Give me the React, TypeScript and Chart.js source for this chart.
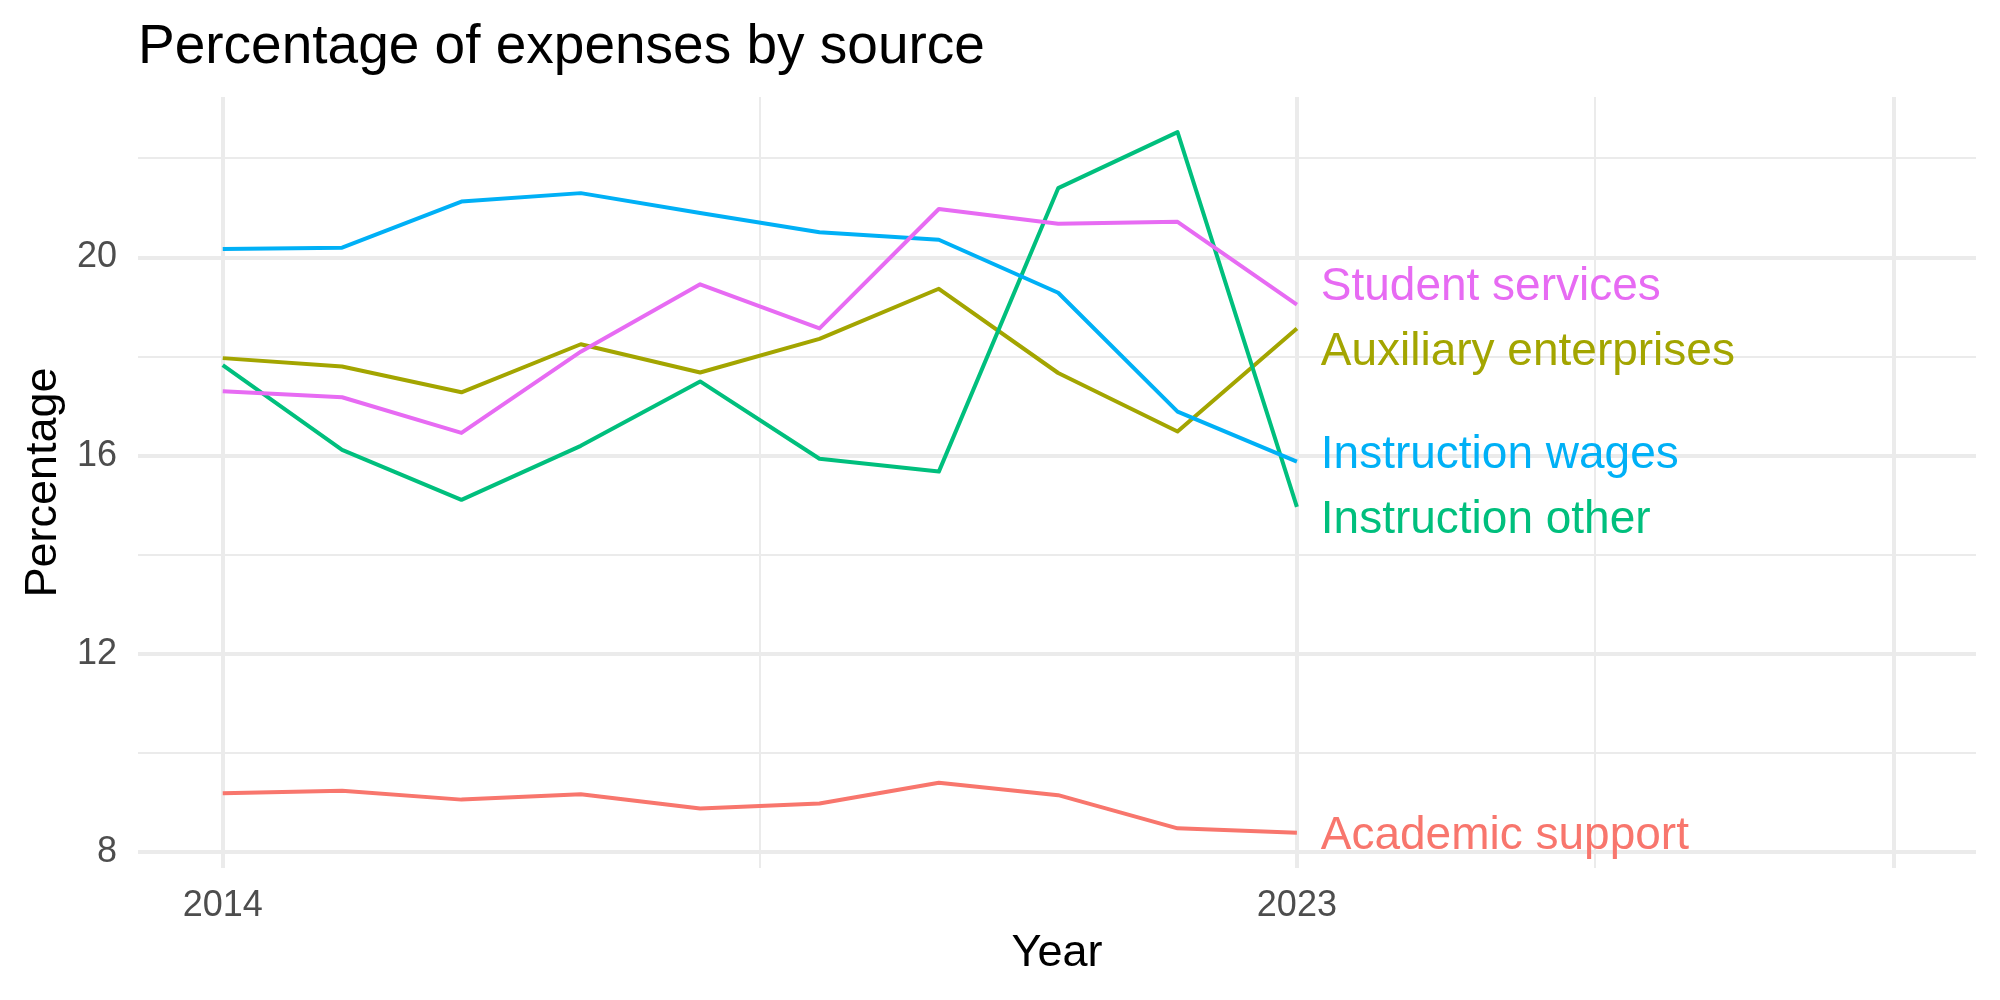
import React, { useEffect, useRef } from "react";
import { Chart, registerables } from "chart.js";

Chart.register(...registerables);

const TITLE = "Percentage of expenses by source";
const X_TITLE = "Year";
const Y_TITLE = "Percentage";

const YEARS = [2014, 2015, 2016, 2017, 2018, 2019, 2020, 2021, 2022, 2023];

const SERIES_NAMES = [
  "Academic support",
  "Auxiliary enterprises",
  "Instruction other",
  "Instruction wages",
  "Student services",
];

const SERIES_COLORS = ["#F8766D", "#A3A500", "#00BF7D", "#00B0F6", "#E76BF3"];

const ACADEMIC_SUPPORT = [9.19, 9.24, 9.06, 9.17, 8.88, 8.98, 9.4, 9.15, 8.48, 8.39];
const AUXILIARY_ENTERPRISES = [17.97, 17.8, 17.28, 18.25, 17.68, 18.36, 19.37, 17.67, 16.49, 18.57];
const INSTRUCTION_OTHER = [17.83, 16.12, 15.11, 16.2, 17.5, 15.94, 15.68, 21.4, 22.53, 14.97];
const INSTRUCTION_WAGES = [20.17, 20.2, 21.13, 21.3, 20.9, 20.51, 20.36, 19.29, 16.89, 15.88];
const STUDENT_SERVICES = [17.3, 17.18, 16.46, 18.1, 19.46, 18.57, 20.98, 20.68, 20.72, 19.05];

const SERIES_VALUES = [
  ACADEMIC_SUPPORT,
  AUXILIARY_ENTERPRISES,
  INSTRUCTION_OTHER,
  INSTRUCTION_WAGES,
  STUDENT_SERVICES,
];

const X_TICKS = [2014, 2018.5, 2023, 2025.5, 2028];
const X_MAJOR = [2014, 2023, 2028];
const X_LABELED = [2014, 2023];
const Y_TICKS = [8, 10, 12, 14, 16, 18, 20, 22];
const Y_MAJOR = [8, 12, 16, 20];

const FONT = "'Liberation Sans', Arial, Helvetica, sans-serif";
const GRID = "#EBEBEB";

const labelPlugin = {
  id: "endLabels",
  afterDatasetsDraw(chart: any) {
    const ctx = chart.ctx;
    const xs = chart.scales.x;
    const ys = chart.scales.y;
    const lastIdx = YEARS.length - 1;
    const gap = 65;
    const items = SERIES_NAMES.map((name, i) => ({
      name,
      color: SERIES_COLORS[i],
      y0: ys.getPixelForValue(SERIES_VALUES[i][lastIdx]),
      y: 0,
    })).sort((a, b) => a.y0 - b.y0);
    let clusters = items.map((it) => ({ members: [it], center: it.y0 }));
    let merged = true;
    while (merged) {
      merged = false;
      for (let i = 0; i < clusters.length - 1; i++) {
        const a = clusters[i];
        const b = clusters[i + 1];
        const aBottom = a.center + ((a.members.length - 1) * gap) / 2;
        const bTop = b.center - ((b.members.length - 1) * gap) / 2;
        if (bTop - aBottom < gap) {
          const members = a.members.concat(b.members);
          const center = members.reduce((s, m) => s + m.y0, 0) / members.length;
          clusters.splice(i, 2, { members, center });
          merged = true;
          break;
        }
      }
    }
    clusters.forEach((c) => {
      const n = c.members.length;
      c.members.forEach((m, k) => {
        m.y = c.center + (k - (n - 1) / 2) * gap;
      });
    });
    const lx = xs.getPixelForValue(YEARS[lastIdx] + 0.2);
    ctx.save();
    ctx.font = `46px ${FONT}`;
    ctx.textAlign = "left";
    ctx.textBaseline = "alphabetic";
    items.forEach((it) => {
      ctx.fillStyle = it.color;
      ctx.fillText(it.name, lx, it.y + 16);
    });
    ctx.restore();
  },
  afterDraw(chart: any) {
    const ctx = chart.ctx;
    ctx.save();
    ctx.font = `55px ${FONT}`;
    ctx.fillStyle = "#000000";
    ctx.textAlign = "left";
    ctx.textBaseline = "alphabetic";
    ctx.fillText(TITLE, chart.chartArea.left, 63);
    ctx.restore();
  },
};

export default function App() {
  const canvasRef = useRef<HTMLCanvasElement | null>(null);

  useEffect(() => {
    if (!canvasRef.current) return;
    const datasets = SERIES_NAMES.map((name, i) => ({
      label: name,
      data: YEARS.map((yr, j) => ({ x: yr, y: SERIES_VALUES[i][j] })),
      borderColor: SERIES_COLORS[i],
      backgroundColor: SERIES_COLORS[i],
      borderWidth: 4,
      pointRadius: 0,
      tension: 0,
      borderJoinStyle: "round" as const,
      fill: false,
    })).reverse();

    const chart = new Chart(canvasRef.current, {
      type: "line",
      data: { datasets },
      plugins: [labelPlugin],
      options: {
        responsive: false,
        animation: false,
        devicePixelRatio: 1,
        layout: { padding: { top: 97, right: 24, left: 0, bottom: 0 } },
        plugins: {
          legend: { display: false },
          tooltip: { enabled: false },
          title: { display: false },
        },
        scales: {
          x: {
            type: "linear",
            min: 2013.29,
            max: 2028.69,
            afterBuildTicks: (scale: any) => {
              scale.ticks = X_TICKS.map((v) => ({ value: v }));
            },
            afterFit: (scale: any) => {
              scale.height = 132;
            },
            border: { display: false },
            grid: {
              color: GRID,
              drawTicks: false,
              lineWidth: (c: any) => (c.tick && X_MAJOR.includes(c.tick.value) ? 4 : 2),
            },
            ticks: {
              autoSkip: false,
              maxRotation: 0,
              padding: 16,
              color: "#4D4D4D",
              font: { family: FONT, size: 36 },
              callback: (v: any) => (X_LABELED.includes(Number(v)) ? String(v) : ""),
            },
            title: {
              display: true,
              text: X_TITLE,
              color: "#000000",
              font: { family: FONT, size: 45 },
              padding: { top: 0, bottom: 19 },
            },
          },
          y: {
            type: "linear",
            min: 7.68,
            max: 23.24,
            afterBuildTicks: (scale: any) => {
              scale.ticks = Y_TICKS.map((v) => ({ value: v }));
            },
            afterFit: (scale: any) => {
              scale.width = 138;
            },
            border: { display: false },
            grid: {
              color: GRID,
              drawTicks: false,
              lineWidth: (c: any) => (c.tick && Y_MAJOR.includes(c.tick.value) ? 4 : 2),
            },
            ticks: {
              autoSkip: false,
              padding: 21,
              color: "#4D4D4D",
              font: { family: FONT, size: 36 },
              callback: (v: any) => (Y_MAJOR.includes(Number(v)) ? String(v) : ""),
            },
            title: {
              display: true,
              text: Y_TITLE,
              color: "#000000",
              font: { family: FONT, size: 45 },
              padding: { top: 17, bottom: 0 },
            },
          },
        },
      },
    });
    return () => chart.destroy();
  }, []);

  return (
    <div style={{ position: "fixed", left: 0, top: 0, width: 2000, height: 1000, background: "#ffffff" }}>
      <canvas ref={canvasRef} width={2000} height={1000} style={{ width: 2000, height: 1000 }} />
    </div>
  );
}
